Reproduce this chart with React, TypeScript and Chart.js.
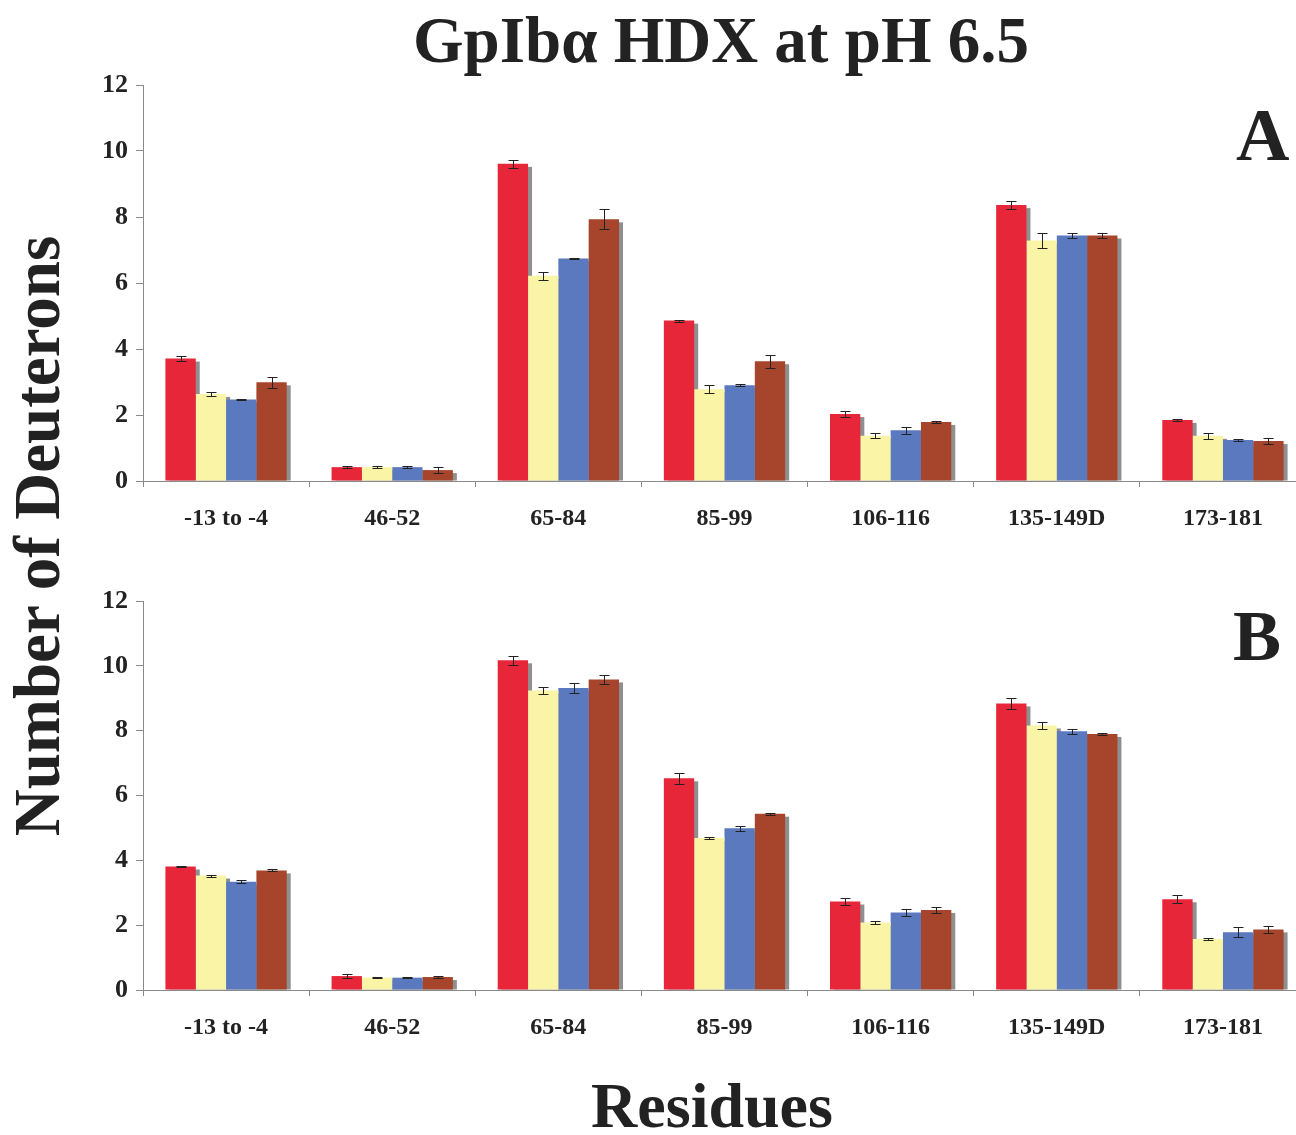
import React, { useEffect, useRef } from "react";
import { Chart, registerables } from "chart.js";

Chart.register(...registerables);

const categories = ["-13 to -4", "46-52", "65-84", "85-99", "106-116", "135-149D", "173-181"];
const yTicks = [0, 2, 4, 6, 8, 10, 12];

const seriesNames = ["S1", "S2", "S3", "S4"];
const seriesColors = ["#E8263A", "#FAF4A6", "#5A79BE", "#A6452C"];

// Panel A values
const aRed = [3.71, 0.42, 9.61, 4.86, 2.03, 8.36, 1.85];
const aYellow = [2.64, 0.42, 6.22, 2.78, 1.37, 7.29, 1.37];
const aBlue = [2.47, 0.42, 6.74, 2.9, 1.54, 7.44, 1.24];
const aBrown = [2.99, 0.33, 7.93, 3.63, 1.79, 7.44, 1.21];
const aRedErr = [0.07, 0.03, 0.11, 0.03, 0.08, 0.12, 0.03];
const aYellowErr = [0.05, 0.02, 0.12, 0.12, 0.08, 0.22, 0.09];
const aBlueErr = [0.02, 0.03, 0.02, 0.03, 0.11, 0.08, 0.04];
const aBrownErr = [0.17, 0.08, 0.3, 0.2, 0.03, 0.07, 0.08];

// Panel B values
const bRed = [3.81, 0.43, 10.17, 6.53, 2.73, 8.84, 2.8];
const bYellow = [3.53, 0.38, 9.24, 4.69, 2.08, 8.16, 1.57];
const bBlue = [3.34, 0.38, 9.32, 4.99, 2.39, 7.98, 1.78];
const bBrown = [3.69, 0.4, 9.58, 5.44, 2.47, 7.9, 1.87];
const bRedErr = [0.02, 0.05, 0.14, 0.17, 0.1, 0.16, 0.12];
const bYellowErr = [0.03, 0.02, 0.11, 0.04, 0.04, 0.1, 0.02];
const bBlueErr = [0.04, 0.02, 0.15, 0.07, 0.1, 0.08, 0.15];
const bBrownErr = [0.03, 0.03, 0.13, 0.03, 0.1, 0.02, 0.1];

const FONT = '"Liberation Serif", "Times New Roman", Times, serif';
const AXIS_COLOR = "#8a8a8a";
const TEXT_COLOR = "#222222";

const shadowErrPlugin = {
  id: "shadowErr",
  beforeDatasetsDraw(chart: any) {
    const ctx = chart.ctx;
    ctx.save();
    ctx.fillStyle = "rgba(115,115,115,0.8)";
    chart.data.datasets.forEach((ds: any, i: number) => {
      const meta = chart.getDatasetMeta(i);
      meta.data.forEach((bar: any) => {
        const p = bar.getProps(["x", "y", "base", "width"], true);
        const left = p.x - p.width / 2 + 4;
        const top = p.y + 3;
        ctx.fillRect(left, top, p.width, p.base - top);
      });
    });
    ctx.restore();
  },
  afterDatasetsDraw(chart: any) {
    const ctx = chart.ctx;
    const yScale = chart.scales.y;
    ctx.save();
    ctx.strokeStyle = "#222222";
    ctx.lineWidth = 1;
    chart.data.datasets.forEach((ds: any, i: number) => {
      const meta = chart.getDatasetMeta(i);
      const errs: number[] = ds.errors || [];
      meta.data.forEach((bar: any, j: number) => {
        const e = errs[j];
        if (!e) return;
        const p = bar.getProps(["x"], true);
        const v = ds.data[j];
        const yt = Math.round(yScale.getPixelForValue(v + e)) + 0.5;
        const yb = Math.round(yScale.getPixelForValue(v - e)) + 0.5;
        const x = Math.round(p.x) + 0.5;
        ctx.beginPath();
        ctx.moveTo(x, yt);
        ctx.lineTo(x, yb);
        ctx.moveTo(x - 5, yt);
        ctx.lineTo(x + 5, yt);
        ctx.moveTo(x - 5, yb);
        ctx.lineTo(x + 5, yb);
        ctx.stroke();
      });
    });
    ctx.restore();
  },
};

type PanelProps = {
  top: number;
  padTop: number;
  plotH: number;
  values: number[][];
  errors: number[][];
};

const CANVAS_W = 1310;
const CANVAS_H = 500;

function Panel({ top, padTop, plotH, values, errors }: PanelProps) {
  const ref = useRef<HTMLCanvasElement | null>(null);
  useEffect(() => {
    if (!ref.current) return;
    const xAxisH = CANVAS_H - padTop - plotH;
    const chart = new Chart(ref.current, {
      type: "bar",
      data: {
        labels: categories,
        datasets: values.map((vals, i) => ({
          label: seriesNames[i],
          data: vals,
          errors: errors[i],
          backgroundColor: seriesColors[i],
          borderWidth: 0,
          categoryPercentage: 0.73,
          barPercentage: 1.0,
        })) as any,
      },
      options: {
        responsive: false,
        animation: false,
        devicePixelRatio: 1,
        layout: { padding: { top: padTop, right: 4, left: 0, bottom: 0 } },
        plugins: {
          legend: { display: false },
          tooltip: { enabled: false },
          title: { display: false },
        },
        scales: {
          x: {
            grid: {
              display: true,
              drawOnChartArea: false,
              drawTicks: true,
              tickLength: 6,
              color: AXIS_COLOR,
              offset: true,
            },
            border: { display: true, color: AXIS_COLOR, width: 1 },
            ticks: {
              color: TEXT_COLOR,
              font: { family: FONT, size: 24, weight: "bold" },
              padding: 17,
              maxRotation: 0,
              autoSkip: false,
            },
            afterFit: (scale: any) => {
              scale.height = xAxisH;
            },
          },
          y: {
            min: 0,
            max: 12,
            afterBuildTicks: (scale: any) => {
              scale.ticks = yTicks.map((v) => ({ value: v }));
            },
            grid: {
              display: true,
              drawOnChartArea: false,
              drawTicks: true,
              tickLength: 7,
              color: AXIS_COLOR,
            },
            border: { display: true, color: AXIS_COLOR, width: 1 },
            ticks: {
              color: TEXT_COLOR,
              font: { family: FONT, size: 26, weight: "bold" },
              padding: 8,
            },
            afterFit: (scale: any) => {
              scale.width = 143;
            },
          },
        },
      } as any,
      plugins: [shadowErrPlugin],
    });
    return () => chart.destroy();
  }, []);
  return (
    <canvas
      ref={ref}
      width={CANVAS_W}
      height={CANVAS_H}
      style={{ position: "absolute", left: 0, top, width: CANVAS_W, height: CANVAS_H }}
    />
  );
}

const textBase: React.CSSProperties = {
  position: "absolute",
  fontFamily: FONT,
  fontWeight: "bold",
  color: TEXT_COLOR,
  whiteSpace: "nowrap",
  lineHeight: 1,
  margin: 0,
};

export default function App() {
  return (
    <div
      style={{
        position: "absolute",
        left: 0,
        top: 0,
        width: 1296,
        height: 1135,
        overflow: "hidden",
        background: "#ffffff",
      }}
    >
      <Panel
        top={60}
        padTop={25}
        plotH={396}
        values={[aRed, aYellow, aBlue, aBrown]}
        errors={[aRedErr, aYellowErr, aBlueErr, aBrownErr]}
      />
      <Panel
        top={570}
        padTop={31}
        plotH={389}
        values={[bRed, bYellow, bBlue, bBrown]}
        errors={[bRedErr, bYellowErr, bBlueErr, bBrownErr]}
      />
      <div
        style={{
          ...textBase,
          fontSize: 65,
          lineHeight: "64px",
          top: 8,
          left: 0,
          width: 1442,
          textAlign: "center",
        }}
      >
        GpIbα HDX at pH 6.5
      </div>
      <div
        style={{
          ...textBase,
          fontSize: 64,
          lineHeight: "64px",
          top: 1074,
          left: 0,
          width: 1424,
          textAlign: "center",
        }}
      >
        Residues
      </div>
      <div
        style={{
          ...textBase,
          fontSize: 65,
          lineHeight: "64px",
          width: 800,
          height: 64,
          left: 37 - 400,
          top: 536 - 32,
          textAlign: "center",
          transform: "rotate(-90deg)",
        }}
      >
        Number of Deuterons
      </div>
      <div style={{ ...textBase, fontSize: 74, lineHeight: "74px", top: 98, left: 1236 }}>A</div>
      <div style={{ ...textBase, fontSize: 72, lineHeight: "72px", top: 600, left: 1233 }}>B</div>
    </div>
  );
}
